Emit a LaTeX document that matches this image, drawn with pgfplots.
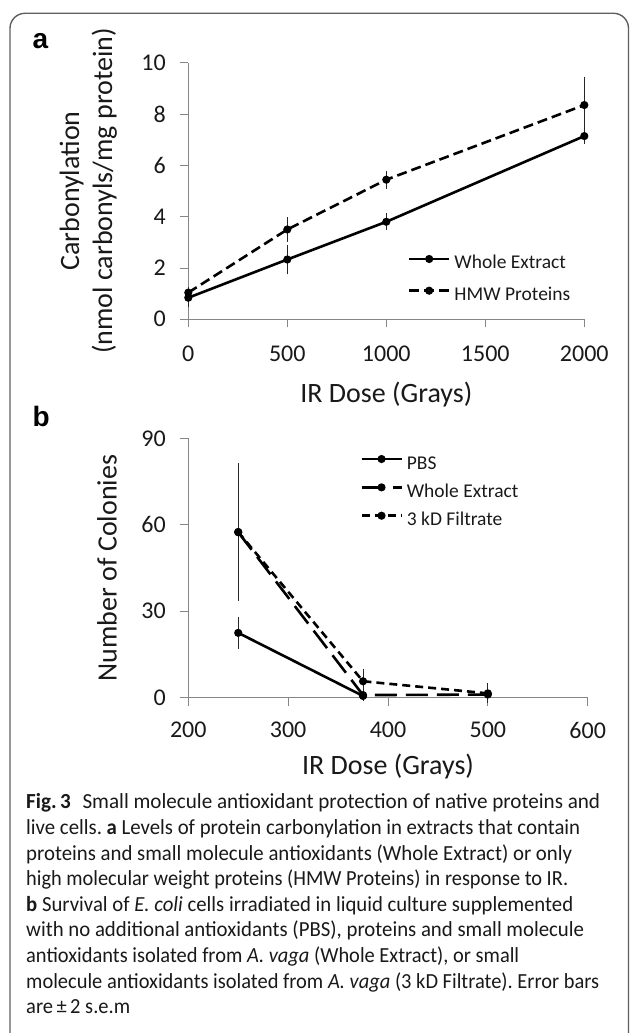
\documentclass[border=0pt]{standalone}
\usepackage{pgfplots}
\pgfplotsset{compat=1.18}
\usepackage{pgfplotstable}
\usepackage{graphicx}
\usepackage{fontspec}
\setmainfont{Carlito}
\newfontfamily\panelfont{Liberation Sans}
\frenchspacing

\definecolor{axisgray}{HTML}{868686}
\definecolor{framegray}{HTML}{5F5F5F}

% panel a: carbonylation vs dose
\pgfplotstableread{
x y e
0 0.84 0.22
500 2.33 0.42
1000 3.80 0.17
2000 7.14 0.14
}\wholeA
\pgfplotstableread{
x y e
0 1.04 0.08
500 3.50 0.33
1000 5.44 0.20
2000 8.35 0.95
}\hmwA

% panel b: colonies vs dose
\pgfplotstableread{
x y e
250 22.5 4.1
375 0.6 0.3
}\pbsB
\pgfplotstableread{
x y e
250 57.4 10.2
375 0.9 0.4
500 1.1 0.5
}\wholeB
\pgfplotstableread{
x y e
250 57.5 22.5
375 5.7 3.0
500 1.5 2.1
}\filtB

\newcommand{\legfont}{\fontsize{19.5bp}{22bp}\selectfont}

\pgfplotsset{
  panel/.style={
    scale only axis, anchor=south west, clip=false,
    axis lines*=left,
    axis line style={axisgray, line width=0.9bp, -},
    tick align=outside, major tick length=8bp,
    tick style={axisgray, line width=0.9bp},
    ticklabel style={font=\fontsize{24bp}{28bp}\selectfont, text=black!90},
    yticklabel style={xshift=-11bp},
    label style={font=\fontsize{28bp}{33bp}\selectfont, text=black!90},
    /pgf/number format/assume math mode=true,
    /pgf/number format/1000 sep={},
    scaled ticks=false,
    xlabel style={anchor=base, inner sep=0pt},
    ylabel style={anchor=south, inner sep=0pt, align=center},
    legend cell align=left,
    legend style={draw=none, fill=none, inner sep=0pt, anchor=north west,
      text=black!90,
      nodes={inner sep=0pt, text height=13bp, text depth=4bp},
      column sep=4bp},
    legend image code/.code={
      \draw[mark repeat=2, mark phase=2, yshift=5.5bp, #1]
        plot coordinates {(0bp,0bp) (20bp,0bp) (40bp,0bp)};},
  },
  series/.style={black, line width=2.6bp, mark=*, mark size=2.7bp,
    mark options={solid},
    error bars/y dir=both, error bars/y explicit,
    error bars/error bar style={line width=0.9bp, solid, black!85},
    error bars/error mark options={line width=0.9bp, mark size=4bp, solid, black!85}},
}

% caption line squeezed or stretched to the measured width
\newcommand{\capline}[3]{\node at (26bp,#1) {\resizebox{#2}{\height}{#3}};}

\begin{document}
\begin{tikzpicture}
\useasboundingbox (0,0) rectangle (630bp,1033bp);
\draw[framegray, line width=1.4bp, rounded corners=15bp]
  (10bp,-30bp) rectangle (628.5bp,1019.7bp);

\node[anchor=base west, inner sep=0pt, font=\panelfont\bfseries\fontsize{28bp}{30bp}\selectfont]
  at (32.5bp,984.7bp) {a};
\node[anchor=base west, inner sep=0pt, font=\panelfont\bfseries\fontsize{28bp}{30bp}\selectfont]
  at (32.5bp,606.3bp) {b};

% ---- panel a
\begin{axis}[panel,
  at={(188.3bp,713.7bp)}, width=396bp, height=256.6bp,
  xmin=0, xmax=2000, ymin=0, ymax=10,
  xtick={0,500,1000,1500,2000}, ytick={0,2,4,6,8,10},
  xticklabel style={yshift=-15.5bp},
  xlabel={IR Dose (Grays)},
  ylabel={Carbonylation\\(nmol carbonyls/mg protein)},
  xlabel style={at={(axis description cs:0.5,-0.325)}},
  ylabel style={at={(axis description cs:-0.18,0.5)}},
  legend style={at={(axis description cs:0.554,0.2475)}, row sep=14.7bp},
]
\addplot[series] table[x=x, y=y, y error=e] {\wholeA};
\addlegendentry{\legfont Whole Extract}
\addplot[series, dash pattern=on 10bp off 5bp] table[x=x, y=y, y error=e] {\hmwA};
\addlegendentry{\legfont HMW Proteins}
\end{axis}

% ---- panel b
\begin{axis}[panel,
  at={(188.3bp,335.3bp)}, width=399.4bp, height=259.4bp,
  xmin=200, xmax=600, ymin=0, ymax=90,
  xtick={200,300,400,500,600}, ytick={0,30,60,90},
  xticklabel style={yshift=-13bp},
  xlabel={IR Dose (Grays)},
  ylabel={Number of Colonies},
  xlabel style={at={(axis description cs:0.5,-0.298)}},
  ylabel style={at={(axis description cs:-0.1785,0.5)}},
  legend style={at={(axis description cs:0.43,0.9325)}, row sep=11.35bp},
]
\addplot[series] table[x=x, y=y, y error=e] {\pbsB};
\addlegendentry{\legfont PBS}
\addplot[series, dash pattern=on 22bp off 9bp] table[x=x, y=y, y error=e] {\wholeB};
\addlegendentry{\legfont Whole Extract}
\addplot[series, dash pattern=on 8bp off 5bp] table[x=x, y=y, y error=e] {\filtB};
\addlegendentry{\legfont 3 kD Filtrate}
\end{axis}

% ---- caption
\begin{scope}[every node/.style={anchor=base west, inner sep=0pt,
    font=\fontsize{21.5bp}{25.6bp}\selectfont, text=black!90}]
\capline{224bp}{574bp}{\textbf{Fig.\,3}\hspace{0.55em}Small molecule antioxidant protection of native proteins and}
\capline{198.4bp}{554bp}{live cells. \textbf{a} Levels of protein carbonylation in extracts that contain}
\capline{172.8bp}{546bp}{proteins and small molecule antioxidants (Whole Extract) or only}
\capline{147.2bp}{542bp}{high molecular weight proteins (HMW Proteins) in response to IR.}
\capline{121.6bp}{547bp}{\textbf{b} Survival of \textit{E. coli} cells irradiated in liquid culture supplemented}
\capline{96bp}{558bp}{with no additional antioxidants (PBS), proteins and small molecule}
\capline{70.4bp}{493bp}{antioxidants isolated from \textit{A. vaga} (Whole Extract), or small}
\capline{44.8bp}{573bp}{molecule antioxidants isolated from \textit{A. vaga} (3 kD Filtrate). Error bars}
\capline{19.2bp}{104bp}{are\,±\,2 s.e.m}
\end{scope}
\end{tikzpicture}
\end{document}
